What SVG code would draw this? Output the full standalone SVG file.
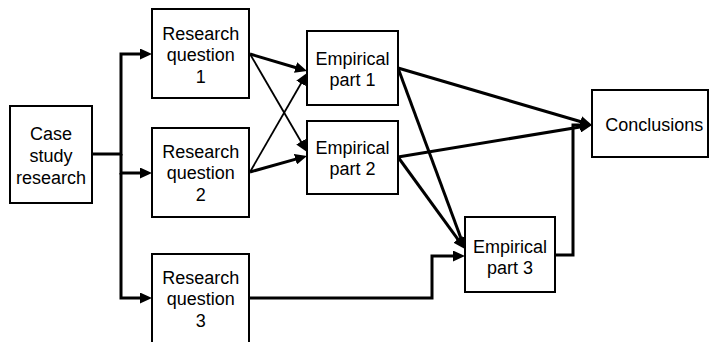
<svg xmlns="http://www.w3.org/2000/svg" width="709" height="342" viewBox="0 0 709 342">
  <defs>
    <!-- filled arrowhead; the line stops 6px short of the tip -->
    <marker id="arrow" markerUnits="userSpaceOnUse" markerWidth="12" markerHeight="11" refX="6" refY="5.5" orient="auto">
      <path d="M0,0 L12,5.5 L0,11 Z" fill="#000"/>
    </marker>
  </defs>
  <style>
    .box { fill: #fff; stroke: #000; stroke-width: 2; }
    .label { font-family: "Liberation Sans", Arial, Helvetica, sans-serif; font-size: 18px; fill: #000; text-anchor: middle; }
    .thick { fill: none; stroke: #000; stroke-width: 3; }
    .thin { fill: none; stroke: #000; stroke-width: 1.8; }
  </style>
  <rect width="709" height="342" fill="#fff"/>

  <g id="connectors">
    <!-- case study fan-out to the research questions -->
    <path class="thick" d="M92,154 H121 V54 H146" marker-end="url(#arrow)"/>
    <path class="thick" d="M121,154 V173 H146" marker-end="url(#arrow)"/>
    <path class="thick" d="M121,173 V298 H146" marker-end="url(#arrow)"/>
    <!-- research questions to empirical parts -->
    <path class="thick" d="M250,54 L301.3,69.3" marker-end="url(#arrow)"/>
    <path class="thin" d="M250,54 L304,146.8" marker-end="url(#arrow)"/>
    <path class="thin" d="M250,172 L304,78.2" marker-end="url(#arrow)"/>
    <path class="thick" d="M250,172 L301.2,157.6" marker-end="url(#arrow)"/>
    <path class="thick" d="M249,298 H432 V256 H459" marker-end="url(#arrow)"/>
    <!-- empirical parts 1 and 2 feed part 3 -->
    <path class="thick" d="M398,68 L462.9,243.4" marker-end="url(#arrow)"/>
    <path class="thick" d="M398,157 L461.4,244.2" marker-end="url(#arrow)"/>
    <!-- empirical parts to conclusions -->
    <path class="thick" d="M398,68 L586.2,123.3" marker-end="url(#arrow)"/>
    <path class="thick" d="M398,157 L586.1,126" marker-end="url(#arrow)"/>
    <path class="thick" d="M555,255 H573 V125 H586" marker-end="url(#arrow)"/>
  </g>

  <g id="case-study">
    <rect class="box" x="10" y="106" width="82" height="97"/>
    <text class="label" x="51" y="140">Case</text>
    <text class="label" x="51" y="161.5">study</text>
    <text class="label" x="51" y="183.5">research</text>
  </g>

  <g id="rq1">
    <rect class="box" x="152" y="9" width="97" height="89"/>
    <text class="label" x="200.8" y="40">Research</text>
    <text class="label" x="200.8" y="61">question</text>
    <text class="label" x="200.8" y="82.5">1</text>
  </g>

  <g id="rq2">
    <rect class="box" x="152" y="128" width="97" height="89"/>
    <text class="label" x="200.8" y="158">Research</text>
    <text class="label" x="200.8" y="179">question</text>
    <text class="label" x="200.8" y="200.5">2</text>
  </g>

  <g id="rq3">
    <rect class="box" x="152" y="254" width="97" height="92"/>
    <text class="label" x="200.8" y="284">Research</text>
    <text class="label" x="200.8" y="305">question</text>
    <text class="label" x="200.8" y="326.5">3</text>
  </g>

  <g id="empirical1">
    <rect class="box" x="307" y="31" width="91" height="74"/>
    <text class="label" x="352.5" y="64.5">Empirical</text>
    <text class="label" x="352.5" y="86">part 1</text>
  </g>

  <g id="empirical2">
    <rect class="box" x="307" y="121" width="91" height="73"/>
    <text class="label" x="352.5" y="153.5">Empirical</text>
    <text class="label" x="352.5" y="175">part 2</text>
  </g>

  <g id="empirical3">
    <rect class="box" x="465" y="217" width="90" height="75"/>
    <text class="label" x="510" y="252.5">Empirical</text>
    <text class="label" x="510" y="274">part 3</text>
  </g>

  <g id="conclusions">
    <rect class="box" x="592" y="90" width="116" height="67"/>
    <text class="label" x="654.3" y="131">Conclusions</text>
  </g>
</svg>
